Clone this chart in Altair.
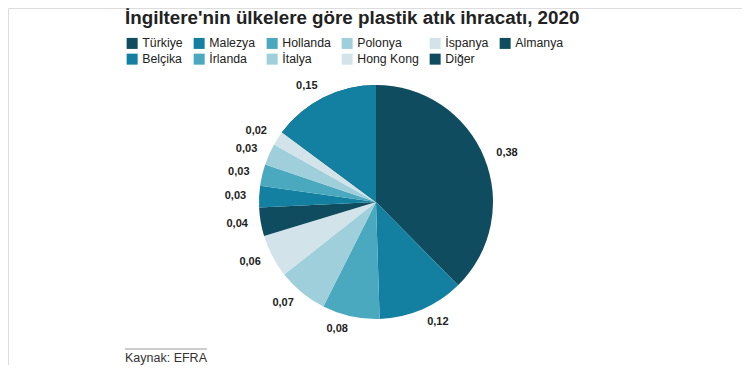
import altair as alt
import pandas as pd

countries = ["Türkiye", "Malezya", "Hollanda", "Polonya", "İspanya", "Almanya",
             "Belçika", "İrlanda", "İtalya", "Hong Kong", "Diğer"]
values = [0.38, 0.12, 0.08, 0.07, 0.06, 0.04, 0.03, 0.03, 0.03, 0.02, 0.15]
labels = ["0,38", "0,12", "0,08", "0,07", "0,06", "0,04", "0,03", "0,03", "0,03", "0,02", "0,15"]
legend_colors = ["#0f4c5f", "#1380a1", "#4aa8bf", "#9ecfdb", "#d2e4ea", "#0f4c5f",
                 "#1380a1", "#4aa8bf", "#9ecfdb", "#d2e4ea", "#0f4c5f"]
other_slice_color = "#1380a1"

title_text = "İngiltere'nin ülkelere göre plastik atık ihracatı, 2020"
source_text = "Kaynak: EFRA"

df = pd.DataFrame({"country": countries, "value": values, "label": labels,
                   "idx": list(range(len(countries)))})

FONT = "Liberation Sans"
CX, CY, R = 368, 194, 117

base = alt.Chart(df).transform_joinaggregate(total="sum(value)").encode(
    theta=alt.Theta("value:Q", stack=True),
    order=alt.Order("idx:Q"),
)

pie = base.mark_arc(radius=R, stroke=None).encode(
    x=alt.value(CX), y=alt.value(CY),
    color=alt.Color("country:N",
                    scale=alt.Scale(domain=countries, range=legend_colors),
                    legend=alt.Legend(
                        title=None, orient="none", legendX=118, legendY=29,
                        direction="horizontal", columns=6,
                        symbolType="square", symbolSize=121, symbolStrokeWidth=0,
                        symbolOpacity=1,
                        labelFont=FONT, labelFontSize=12.3, labelColor="#222222",
                        columnPadding=10, rowPadding=3, labelOffset=4,
                    )),
)

other = base.mark_arc(radius=R, stroke=None).encode(
    x=alt.value(CX), y=alt.value(CY),
    color=alt.value(other_slice_color),
    opacity=alt.condition("datum.country == 'Diğer'", alt.value(1), alt.value(0)),
)

text = base.mark_text(
    radius=R + 13, font=FONT, fontSize=11, fontWeight="bold", color="#222222",
    baseline="middle",
    align=alt.expr("(datum.value_start + datum.value_end) / 2 > datum.total / 2 ? 'right' : 'left'"),
).encode(
    x=alt.value(CX), y=alt.value(CY),
    text="label:N",
)

title = alt.Chart(pd.DataFrame({"t": [title_text]})).mark_text(
    align="left", baseline="alphabetic", font=FONT, fontSize=18.8, fontWeight="bold",
    color="#222222").encode(x=alt.value(117), y=alt.value(16), text="t:N")

source = alt.Chart(pd.DataFrame({"t": [source_text]})).mark_text(
    align="left", baseline="middle", font=FONT, fontSize=12.5,
    color="#333333").encode(x=alt.value(117), y=alt.value(350), text="t:N")

line = alt.Chart(pd.DataFrame({"a": [0]})).mark_rule(color="#999999", strokeWidth=1).encode(
    x=alt.value(117), x2=alt.value(199), y=alt.value(341))

chart = alt.layer(pie, other, text, title, source, line).properties(
    width=734, height=357,
    autosize=alt.AutoSizeParams(type="none"),
    padding=0,
).configure_view(stroke="transparent", strokeWidth=0).configure(background="white")

chart.save("out.html", embed_options={"renderer": "svg", "actions": False})
